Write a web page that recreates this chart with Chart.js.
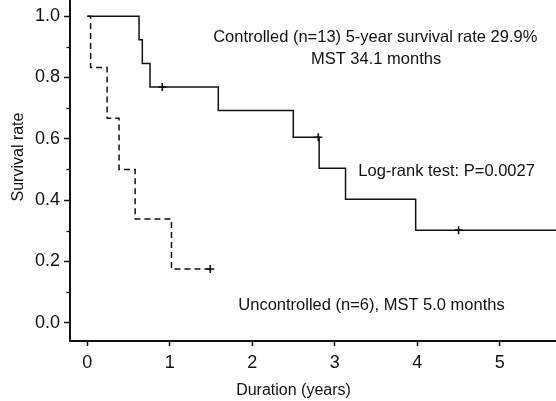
<!DOCTYPE html>
<html>
<head>
<meta charset="utf-8">
<script src="https://cdn.jsdelivr.net/npm/chart.js@4/dist/chart.umd.min.js"></script>
<style>
  html, body { margin: 0; padding: 0; background: #ffffff; }
  #wrap { width: 556px; height: 401px; }
</style>
</head>
<body>
<div id="wrap"><canvas id="c" width="556" height="401"></canvas></div>
<script>
// ---- Data ----
// Kaplan-Meier step points: time (years) and survival after each event
const controlledTimes    = [0, 0.627, 0.667, 0.76, 1.588, 2.497, 2.81, 3.13, 3.98, 5.70];
const controlledSurvival = [1.0, 0.923, 0.846, 0.769, 0.692, 0.605, 0.504, 0.403, 0.302, 0.302];
const controlledCensorTimes    = [0.909, 2.80, 4.50];
const controlledCensorSurvival = [0.769, 0.605, 0.302];

const uncontrolledTimes    = [0, 0.04, 0.24, 0.385, 0.58, 1.02, 1.49];
const uncontrolledSurvival = [1.0, 0.833, 0.667, 0.50, 0.338, 0.175, 0.175];
const uncontrolledCensorTimes    = [1.49];
const uncontrolledCensorSurvival = [0.175];

const xTickValues = [0, 1, 2, 3, 4, 5];
const yTickValues = [0.0, 0.2, 0.4, 0.6, 0.8, 1.0];
const yMinorTickValues = [0.1, 0.3, 0.5, 0.7, 0.9];

const xTitle = 'Duration (years)';
const yTitle = 'Survival rate';
const annotations = [
  { text: 'Controlled (n=13) 5-year survival rate 29.9%', x: 3.49, y: 0.915 },
  { text: 'MST 34.1 months', x: 3.50, y: 0.844 },
  { text: 'Log-rank test: P=0.0027', x: 4.355, y: 0.479 },
  { text: 'Uncontrolled (n=6), MST 5.0 months', x: 3.445, y: 0.040 }
];

const toPts = (xs, ys) => xs.map((x, i) => ({ x: x, y: ys[i] }));

const FONT = '"Liberation Sans", Arial, Helvetica, sans-serif';
const INK = '#111111';

const extras = {
  id: 'extras',
  afterDraw(chart) {
    const { ctx, scales: { x, y }, chartArea } = chart;
    ctx.save();
    // minor y ticks
    ctx.strokeStyle = INK;
    ctx.lineWidth = 1.3;
    yMinorTickValues.forEach(v => {
      const py = Math.round(y.getPixelForValue(v)) + 0.5;
      ctx.beginPath();
      ctx.moveTo(chartArea.left - 3.5, py);
      ctx.lineTo(chartArea.left, py);
      ctx.stroke();
    });
    // annotations
    ctx.fillStyle = INK;
    ctx.font = '16.5px ' + FONT;
    ctx.textAlign = 'center';
    ctx.textBaseline = 'alphabetic';
    annotations.forEach(a => {
      ctx.fillText(a.text, x.getPixelForValue(a.x), y.getPixelForValue(a.y));
    });
    // axis titles
    ctx.font = '16px ' + FONT;
    ctx.fillText(xTitle, 293.5, 395);
    ctx.translate(23, 157);
    ctx.rotate(-Math.PI / 2);
    ctx.fillText(yTitle, 0, 0);
    ctx.restore();
  }
};

new Chart(document.getElementById('c'), {
  type: 'scatter',
  data: {
    datasets: [
      {
        label: 'Controlled',
        data: toPts(controlledTimes, controlledSurvival),
        showLine: true,
        stepped: 'before',
        borderColor: INK,
        borderWidth: 1.5,
        pointRadius: 0,
        fill: false
      },
      {
        label: 'Uncontrolled',
        data: toPts(uncontrolledTimes, uncontrolledSurvival),
        showLine: true,
        stepped: 'before',
        borderColor: INK,
        borderWidth: 1.5,
        borderDash: [6, 4],
        pointRadius: 0,
        fill: false
      },
      {
        label: 'Controlled censored',
        data: toPts(controlledCensorTimes, controlledCensorSurvival),
        showLine: false,
        pointStyle: 'cross',
        pointRadius: 4,
        borderColor: INK,
        borderWidth: 1.6
      },
      {
        label: 'Uncontrolled censored',
        data: toPts(uncontrolledCensorTimes, uncontrolledCensorSurvival),
        showLine: false,
        pointStyle: 'cross',
        pointRadius: 4,
        borderColor: INK,
        borderWidth: 1.6
      }
    ]
  },
  options: {
    responsive: false,
    devicePixelRatio: 1,
    animation: false,
    layout: { padding: 0, autoPadding: false },
    plugins: {
      legend: { display: false },
      tooltip: { enabled: false },
      title: { display: false }
    },
    scales: {
      x: {
        type: 'linear',
        min: -0.2097,
        max: 5.681,
        afterFit(s) { s.height = 60; s.paddingLeft = 0; s.paddingRight = 0; },
        afterBuildTicks(s) { s.ticks = xTickValues.map(v => ({ value: v })); },
        grid: { drawOnChartArea: false, drawTicks: true, tickLength: 5, tickColor: INK, tickWidth: 1.5 },
        border: { display: true, color: INK, width: 2 },
        ticks: {
          color: INK,
          font: { family: FONT, size: 18 },
          padding: 6,
          maxRotation: 0,
          autoSkip: false,
          callback: v => String(v)
        }
      },
      y: {
        type: 'linear',
        min: -0.0597,
        max: 1.0529,
        afterFit(s) { s.width = 70; s.paddingTop = 0; s.paddingBottom = 0; },
        afterBuildTicks(s) { s.ticks = yTickValues.map(v => ({ value: v })); },
        grid: { drawOnChartArea: false, drawTicks: true, tickLength: 6, tickColor: INK, tickWidth: 1.5 },
        border: { display: true, color: INK, width: 2 },
        ticks: {
          color: INK,
          font: { family: FONT, size: 18 },
          padding: 4,
          autoSkip: false,
          callback: v => Number(v).toFixed(1)
        }
      }
    }
  },
  plugins: [extras]
});
</script>
</body>
</html>
